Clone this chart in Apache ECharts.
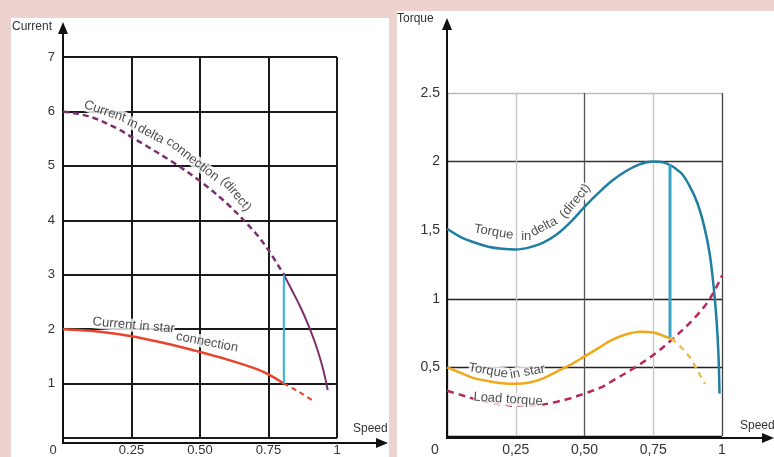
<!DOCTYPE html>
<html><head><meta charset="utf-8">
<script src="https://cdn.jsdelivr.net/npm/echarts@6/dist/echarts.min.js"></script>
<style>html,body{margin:0;padding:0;background:#edd3cf}#c{width:774px;height:457px}</style>
</head><body><div id="c"></div><script>
const FONT = '"Liberation Sans", Arial, sans-serif';

// ---------- Left chart: Current vs Speed ----------
const leftXTicks = [0, 0.25, 0.5, 0.75, 1];
const leftXLabels = ['0', '0.25', '0.50', '0.75', '1'];
const leftYTicks = [0, 1, 2, 3, 4, 5, 6, 7];
const leftYLabels = ['', '1', '2', '3', '4', '5', '6', '7'];

const deltaCurrentDashedSpeed = [0, 0.1, 0.2, 0.25, 0.3, 0.4, 0.5, 0.6, 0.7, 0.75, 0.806];
const deltaCurrentDashedValue = [6.0, 5.9, 5.68, 5.53, 5.38, 5.07, 4.72, 4.3, 3.78, 3.45, 3.0];
const deltaCurrentSolidSpeed = [0.806, 0.835, 0.865, 0.895, 0.92, 0.942, 0.957, 0.966];
const deltaCurrentSolidValue = [3.0, 2.72, 2.42, 2.08, 1.75, 1.4, 1.1, 0.88];
const starCurrentSolidSpeed = [0, 0.1, 0.2, 0.3, 0.4, 0.5, 0.6, 0.7, 0.75, 0.806];
const starCurrentSolidValue = [2.0, 1.97, 1.91, 1.82, 1.71, 1.58, 1.44, 1.28, 1.17, 1.0];
const starCurrentDashedSpeed = [0.806, 0.86, 0.908];
const starCurrentDashedValue = [1.0, 0.85, 0.7];
const switchLeftSpeed = [0.806, 0.806];
const switchLeftCurrent = [1.0, 3.0];

// curve annotations (word, speed, current, rotation)
const leftNoteText = ['Current', 'in', 'delta', 'connection', '(direct)', 'Current in star', 'connection'];
const leftNoteX = [0.153, 0.254, 0.321, 0.473, 0.631, 0.258, 0.526];
const leftNoteY = [6.0, 5.78, 5.586, 5.12, 4.48, 2.07, 1.76];
const leftNoteRot = [-19, -22, -28, -38, -50, -5, -11];

// ---------- Right chart: Torque vs Speed ----------
const rightXTicks = [0, 0.25, 0.5, 0.75, 1];
const rightXLabels = ['0', '0,25', '0,50', '0,75', '1'];
const rightYTicks = [0, 0.5, 1, 1.5, 2, 2.5];
const rightYLabels = ['', '0,5', '1', '1,5', '2', '2.5'];

const deltaTorqueSpeed = [0, 0.05, 0.1, 0.15, 0.2, 0.25, 0.3, 0.35, 0.4, 0.45, 0.5, 0.55, 0.6, 0.65, 0.7, 0.75, 0.8, 0.85, 0.88, 0.91, 0.935, 0.955, 0.97, 0.98, 0.987, 0.991];
const deltaTorqueValue = [1.51, 1.45, 1.41, 1.38, 1.365, 1.36, 1.375, 1.41, 1.47, 1.56, 1.67, 1.77, 1.86, 1.93, 1.98, 2.0, 1.985, 1.92, 1.83, 1.7, 1.53, 1.33, 1.08, 0.85, 0.6, 0.31];
const starTorqueSolidSpeed = [0, 0.05, 0.1, 0.15, 0.2, 0.25, 0.3, 0.35, 0.4, 0.45, 0.5, 0.55, 0.6, 0.65, 0.7, 0.75, 0.8, 0.815];
const starTorqueSolidValue = [0.5, 0.46, 0.42, 0.4, 0.385, 0.38, 0.39, 0.42, 0.47, 0.52, 0.58, 0.64, 0.7, 0.74, 0.76, 0.755, 0.72, 0.71];
const starTorqueDashedSpeed = [0.815, 0.85, 0.884, 0.91, 0.938];
const starTorqueDashedValue = [0.71, 0.65, 0.57, 0.48, 0.38];
const loadTorqueSpeed = [0, 0.05, 0.1, 0.15, 0.2, 0.25, 0.3, 0.35, 0.4, 0.45, 0.5, 0.556, 0.6, 0.676, 0.75, 0.822, 0.9, 0.956, 1.0];
const loadTorqueValue = [0.33, 0.3, 0.27, 0.245, 0.23, 0.22, 0.22, 0.23, 0.25, 0.275, 0.31, 0.35, 0.4, 0.49, 0.59, 0.71, 0.86, 1.0, 1.17];
const switchRightSpeed = [0.811, 0.811];
const switchRightTorque = [0.72, 1.98];

const rightNoteText = ['Torque', 'in', 'delta', '(direct)', 'Torque', 'in star', 'Load torque'];
const rightNoteX = [0.170, 0.288, 0.353, 0.466, 0.150, 0.293, 0.222];
const rightNoteY = [1.486, 1.457, 1.525, 1.712, 0.475, 0.468, 0.268];
const rightNoteRot = [-10, 0, 27, 50, -10, 10, -4];

// ---------- helpers ----------
const zip = (xs, ys) => xs.map((x, i) => [x, ys[i]]);
const tickLabel = (ticks, labels) => v => {
  const i = ticks.findIndex(t => Math.abs(t - v) < 1e-9);
  if (i < 0) return '';
  return i === 0 && labels[0] === '0' ? '{z|0}' : labels[i];
};
function lineSeries(name, xs, ys, color, width, type, axis, smooth) {
  return {
    name, type: 'line', xAxisIndex: axis, yAxisIndex: axis, data: zip(xs, ys),
    symbol: 'none', smooth: smooth === undefined ? 0.35 : smooth, silent: true, z: 5,
    lineStyle: { color, width, type: type || 'solid', cap: 'butt' }
  };
}
function noteSeries(texts, xs, ys, rots, axis, size) {
  return {
    type: 'scatter', xAxisIndex: axis, yAxisIndex: axis, symbolSize: 1, silent: true, z: 8,
    itemStyle: { color: 'rgba(0,0,0,0)' },
    data: texts.map((t, i) => ({ value: [xs[i], ys[i]], name: t, label: { rotate: rots[i] } })),
    label: {
      show: true, position: 'inside', formatter: p => p.name, color: '#222',
      fontFamily: FONT, fontSize: size, backgroundColor: '#fff', padding: 0
    }
  };
}
const arrowAxisX = (gridIndex) => ({
  type: 'value', gridIndex, min: 0, max: 1,
  axisLine: { show: true, lineStyle: { color: '#111', width: 2 }, symbol: ['none', 'triangle'], symbolSize: [10, 12] },
  axisTick: { show: false }, axisLabel: { show: false }, splitLine: { show: false }
});
const arrowAxisY = arrowAxisX;

const chart = echarts.init(document.getElementById('c'), null, { renderer: 'canvas' });
const option = {
  backgroundColor: '#edd3cf',
  animation: false,
  textStyle: { fontFamily: FONT },
  grid: [
    { left: 63, top: 57, width: 274, height: 386 },
    { left: 63, top: 28, width: 319, height: 415 },
    { left: 447, top: 93, width: 275, height: 345 },
    { left: 447, top: 24, width: 321, height: 414 }
  ],
  xAxis: [
    {
      type: 'value', gridIndex: 0, min: 0, max: 1, interval: 0.25,
      axisLine: { show: false }, axisTick: { show: false },
      axisLabel: { formatter: tickLabel(leftXTicks, leftXLabels), color: '#333', fontSize: 13, margin: 6,
        rich: { z: { padding: [0, 20, 0, 0], fontSize: 13, color: '#333' } } },
      splitLine: { show: true, lineStyle: { color: '#1a1a1a', width: 2 } }
    },
    arrowAxisX(1),
    {
      type: 'value', gridIndex: 2, min: 0, max: 1, interval: 0.25,
      axisLine: { show: false }, axisTick: { show: false },
      axisLabel: { formatter: tickLabel(rightXTicks, rightXLabels), color: '#333', fontSize: 14, margin: 7,
        rich: { z: { padding: [0, 24, 0, 0], fontSize: 14, color: '#333' } } },
      splitLine: { show: true, lineStyle: { color: ['#111', '#c4c4c4', '#555', '#c4c4c4', '#444'], width: 1.3 } }
    },
    arrowAxisX(3)
  ],
  yAxis: [
    {
      type: 'value', gridIndex: 0, min: 0, max: 7, interval: 1,
      axisLine: { show: false }, axisTick: { show: false },
      axisLabel: { formatter: tickLabel(leftYTicks, leftYLabels), color: '#333', fontSize: 13, margin: 8 },
      splitLine: { show: true, lineStyle: { color: '#1a1a1a', width: 2 } }
    },
    arrowAxisY(1),
    {
      type: 'value', gridIndex: 2, min: 0, max: 2.5, interval: 0.5,
      axisLine: { show: false }, axisTick: { show: false },
      axisLabel: { formatter: tickLabel(rightYTicks, rightYLabels), color: '#333', fontSize: 14, margin: 7 },
      splitLine: { show: true, lineStyle: { color: ['#111', '#222', '#222', 'rgba(0,0,0,0)', '#333', '#bbb'], width: 1.3 } }
    },
    arrowAxisY(3)
  ],
  graphic: [
    { type: 'rect', z: -10, shape: { x: 11, y: 18, width: 378, height: 445 }, style: { fill: '#fff' }, silent: true },
    { type: 'rect', z: -10, shape: { x: 397, y: 11, width: 380, height: 450 }, style: { fill: '#fff' }, silent: true },
    { type: 'text', x: 12, y: 27, style: { text: 'Current', font: '12px ' + FONT, fill: '#333', textVerticalAlign: 'middle' } },
    { type: 'text', x: 353, y: 429, style: { text: 'Speed', font: '12px ' + FONT, fill: '#333', textVerticalAlign: 'middle' } },
    { type: 'text', x: 397, y: 19, style: { text: 'Torque', font: '12px ' + FONT, fill: '#333', textVerticalAlign: 'middle' } },
    { type: 'text', x: 740, y: 426, style: { text: 'Speed', font: '12px ' + FONT, fill: '#333', textVerticalAlign: 'middle' } }
  ],
  series: [
    lineSeries('Current in delta (dashed)', deltaCurrentDashedSpeed, deltaCurrentDashedValue, '#7d2e6e', 2.5, [6, 4], 0),
    lineSeries('Current in delta', deltaCurrentSolidSpeed, deltaCurrentSolidValue, '#7d2e6e', 2, 'solid', 0),
    lineSeries('Current in star', starCurrentSolidSpeed, starCurrentSolidValue, '#e8452c', 2.5, 'solid', 0),
    lineSeries('Current in star (dashed)', starCurrentDashedSpeed, starCurrentDashedValue, '#e8452c', 2, [5, 4], 0),
    lineSeries('Switch', switchLeftSpeed, switchLeftCurrent, '#2bb3e3', 2, 'solid', 0, false),
    noteSeries(leftNoteText, leftNoteX, leftNoteY, leftNoteRot, 0, 13),

    lineSeries('Load torque', loadTorqueSpeed, loadTorqueValue, '#b8285e', 2.5, [7, 5], 2),
    lineSeries('Torque in delta', deltaTorqueSpeed, deltaTorqueValue, '#1e7fa0', 2.5, 'solid', 2),
    lineSeries('Torque in star', starTorqueSolidSpeed, starTorqueSolidValue, '#f0a81c', 2.5, 'solid', 2),
    lineSeries('Torque in star (dashed)', starTorqueDashedSpeed, starTorqueDashedValue, '#e9bf55', 2.5, [6, 5], 2),
    lineSeries('Switch torque', switchRightSpeed, switchRightTorque, '#3aa6c6', 3, 'solid', 2, false),
    noteSeries(rightNoteText, rightNoteX, rightNoteY, rightNoteRot, 2, 13)
  ]
};
chart.setOption(option);
</script></body></html>
